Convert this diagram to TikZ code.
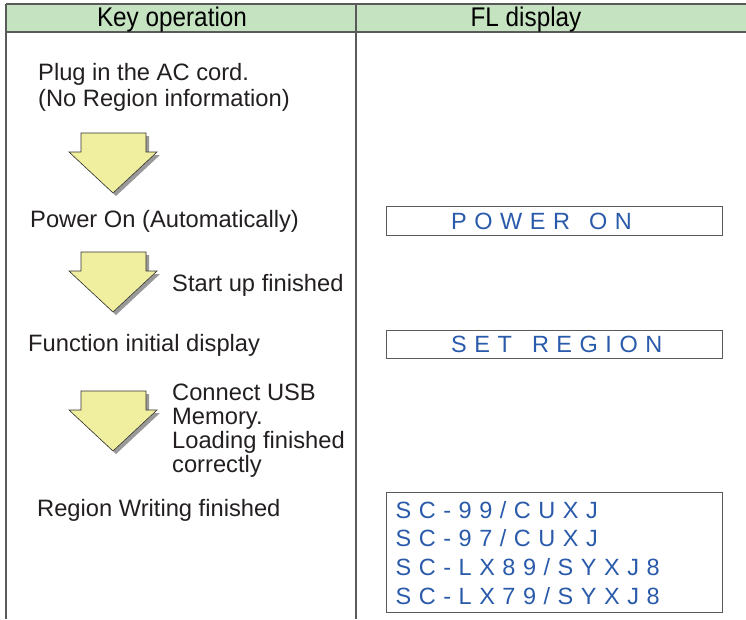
\documentclass[tikz,border=0pt]{standalone}
\usepackage{fontspec}
\setmainfont{Liberation Sans}
\newfontfamily\headfont[FakeStretch=0.9]{Liberation Sans}
\newfontfamily\lcdfont[LetterSpace=32]{Liberation Sans}
\usetikzlibrary{positioning}

\definecolor{headgreen}{RGB}{197,227,192}
\definecolor{rulegray}{RGB}{90,90,90}
\definecolor{arrowyellow}{RGB}{240,239,160}
\definecolor{lcdblue}{RGB}{42,90,170}
\definecolor{textblack}{RGB}{35,31,32}

\tikzset{
  headtext/.style={font=\headfont\fontsize{27}{30}\selectfont, inner sep=0pt, anchor=base},
  keytext/.style={font=\fontsize{23.7}{26}\selectfont, text=textblack, inner sep=0pt, align=left},
  lcdbox/.style={draw=rulegray, line width=1.4pt, minimum width=336pt, inner sep=0pt, anchor=north west},
  lcdtext/.style={font=\lcdfont\fontsize{23.5}{28.6}\selectfont, text=lcdblue, inner sep=0pt, align=left},
  flowarrow/.style={fill=arrowyellow, draw=black!80, line width=0.6pt},
  flowshadow/.style={fill=black!40},
}

\begin{document}
\begin{tikzpicture}[x=1pt, y=-1pt]
\useasboundingbox (0,0) rectangle (746,619);

% table frame
\fill[headgreen] (6,4) rectangle (746,32);
\draw[rulegray, line width=1.6pt] (6,4) -- (746,4) (6,32) -- (746,32)
  (6,4) -- (6,619) (356,4) -- (356,619);
\node[headtext] (keyhead) at (172,26) {Key operation};
\node[headtext] (flhead) at (526,26) {FL display};

% key operation column (base = last line)
\node[keytext, anchor=base west] (plug) at (38,106) {Plug in the AC cord.\\(No Region information)};
\node[keytext, anchor=base west] (poweron) at (30,227) {Power On (Automatically)};
\node[keytext, anchor=base west] (startup) at (172,291) {Start up finished};
\node[keytext, anchor=base west] (funcinit) at (28,351) {Function initial display};
\node[keytext, anchor=base west, font=\fontsize{23.7}{24}\selectfont] (usbload) at (172,472) {Connect USB\\Memory.\\Loading finished\\correctly};
\node[keytext, anchor=base west] (regwrite) at (37,516) {Region Writing finished};

% block arrows
\foreach \t in {133,252,391} {
  \fill[flowshadow, xshift=3pt, yshift=-3pt] (81,\t) -- (146,\t) -- (146,\t+19) -- (157,\t+19)
    -- (113,\t+60) -- (69,\t+19) -- (81,\t+19) -- cycle;
  \draw[flowarrow] (81,\t) -- (146,\t) -- (146,\t+19) -- (157,\t+19)
    -- (113,\t+60) -- (69,\t+19) -- (81,\t+19) -- cycle;
}

% FL display column
\node[lcdbox, minimum height=29pt] (pwrbox) at (386,206) {};
\node[lcdtext, anchor=west] (pwrtext) at ([xshift=65pt]pwrbox.west) {POWER \kern5pt ON};
\node[lcdbox, minimum height=28pt] (regbox) at (386,330) {};
\node[lcdtext, anchor=west] (regtext) at ([xshift=65pt]regbox.west) {SET \kern6pt REGION};
\node[lcdbox, lcdtext, minimum height=120pt, text width=318pt, inner xsep=9pt] (modelbox) at (386,492)
  {SC-99/CUXJ\\SC-97/CUXJ\\SC-LX89/SYXJ8\\SC-LX79/SYXJ8};
\end{tikzpicture}
\end{document}
